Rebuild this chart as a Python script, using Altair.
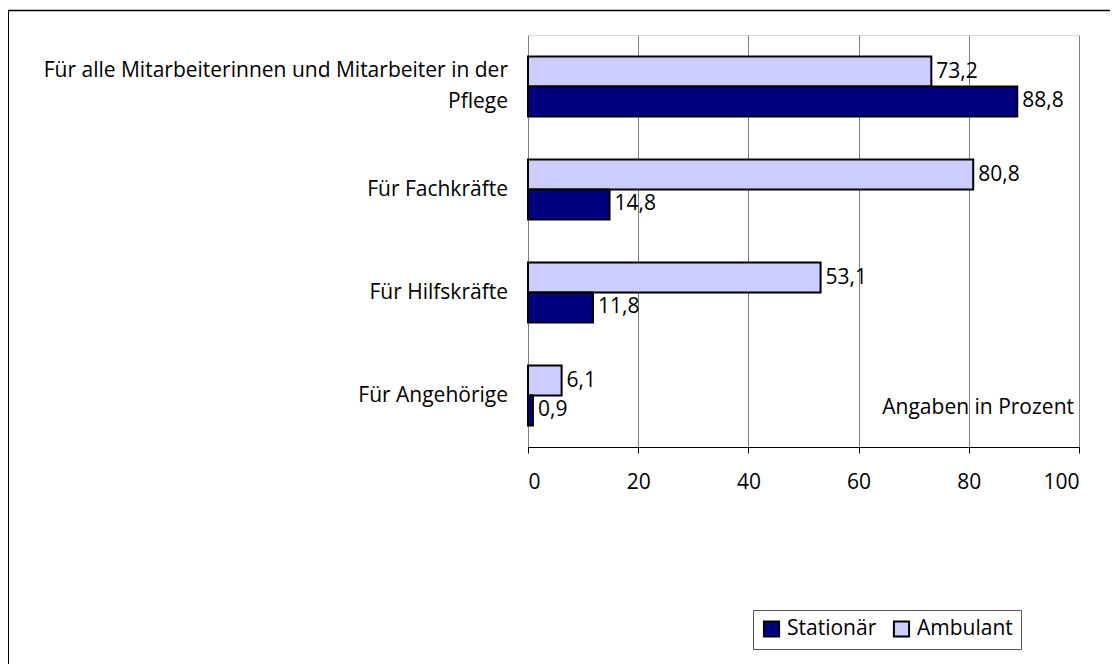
import altair as alt
import pandas as pd

categories = [
    "Für alle Mitarbeiterinnen und Mitarbeiter in der\nPflege",
    "Für Fachkräfte",
    "Für Hilfskräfte",
    "Für Angehörige",
]
series_order = ["Ambulant", "Stationär"]
legend_order = ["Stationär", "Ambulant"]
ambulant = [73.2, 80.8, 53.1, 6.1]
stationaer = [88.8, 14.8, 11.8, 0.9]
x_ticks = [0, 20, 40, 60, 80, 100]
colors = ["#000080", "#CCCCFF"]  # Stationär, Ambulant
note = "Angaben in Prozent"

rows = []
for c, a, s in zip(categories, ambulant, stationaer):
    rows.append({"cat": c, "series": "Ambulant", "value": a,
                 "label": f"{a:.1f}".replace(".", ",")})
    rows.append({"cat": c, "series": "Stationär", "value": s,
                 "label": f"{s:.1f}".replace(".", ",")})
df = pd.DataFrame(rows)
cat_df = pd.DataFrame({"cat": categories,
                       "multi": [("\n" in c) for c in categories]})

FONT = "Open Sans"
FS = 21
W, H = 551, 412

y_scale = alt.Scale(paddingInner=0, paddingOuter=0)
y_enc = alt.Y(
    "cat:N", sort=categories, title=None, scale=y_scale,
    axis=alt.Axis(
        labels=False, tickBand="extent", tickSize=7, tickColor="black",
        tickWidth=1, domainColor="black", grid=False,
    ),
)
y_plain = alt.Y("cat:N", sort=categories, title=None, scale=y_scale, axis=None)
x_enc = alt.X(
    "value:Q", title=None,
    scale=alt.Scale(domain=[0, 100], nice=False),
    axis=alt.Axis(
        values=x_ticks, grid=True, gridColor="#808080", gridWidth=1,
        domainColor="black", tickColor="black", tickSize=6,
        labelFontSize=FS, labelFont=FONT, labelColor="black",
        labelPadding=18,
    ),
)
yoff = alt.YOffset("series:N", sort=series_order,
                   scale=alt.Scale(paddingInner=0, paddingOuter=0.717))

base = alt.Chart(df)

bars = base.mark_bar(stroke="black", strokeWidth=2).encode(
    y=y_enc, x=x_enc, yOffset=yoff,
    color=alt.Color(
        "series:N",
        scale=alt.Scale(domain=legend_order, range=colors),
        legend=alt.Legend(
            title=None, orient="none", direction="horizontal",
            legendX=225, legendY=575,
            symbolType="square", symbolSize=230,
            symbolStrokeColor="black", symbolStrokeWidth=2,
            labelFontSize=FS, labelFont=FONT, labelColor="black",
            strokeColor="#555555", padding=8, columnPadding=12,
            labelOffset=5,
        ),
    ),
)

labels = base.mark_text(
    align="left", baseline="middle", dx=5, fontSize=FS, font=FONT,
    color="black",
).encode(y=y_plain, x=x_enc, yOffset=yoff, text="label:N")

cat_base = alt.Chart(cat_df).transform_calculate(
    lines="split(datum.cat, '\\n')"
)
cat_single = cat_base.transform_filter("!datum.multi").mark_text(
    align="right", baseline="middle", fontSize=FS, font=FONT, color="black",
).encode(y=y_plain, x=alt.value(-20), text="lines:N")
cat_multi = cat_base.transform_filter("datum.multi").mark_text(
    align="right", baseline="middle", fontSize=FS, font=FONT, color="black",
    lineHeight=31, dy=-15.5,
).encode(y=y_plain, x=alt.value(-20), text="lines:N")

note_layer = alt.Chart(pd.DataFrame({"t": [note]})).mark_text(
    align="right", baseline="middle", fontSize=FS, font=FONT, color="black",
).encode(x=alt.value(546), y=alt.value(373), text="t:N")

frame_top = alt.Chart(pd.DataFrame({"a": [0]})).mark_rule(
    color="black", strokeWidth=1.5,
).encode(x=alt.value(-520), x2=alt.value(582), y=alt.value(-24.5))

frame_left = alt.Chart(pd.DataFrame({"a": [0]})).mark_rule(
    color="black", strokeWidth=2,
).encode(x=alt.value(-520), y=alt.value(-25), y2=alt.value(629))

chart = alt.layer(
    bars, labels, cat_single, cat_multi, note_layer, frame_top, frame_left
).properties(
    width=W, height=H,
    autosize=alt.AutoSizeParams(type="none"),
    padding={"left": 520, "top": 27, "right": 31, "bottom": 217},
).configure_view(stroke=None).configure(background="white")

chart.save("out.html", embed_options={"renderer": "svg", "actions": False})
